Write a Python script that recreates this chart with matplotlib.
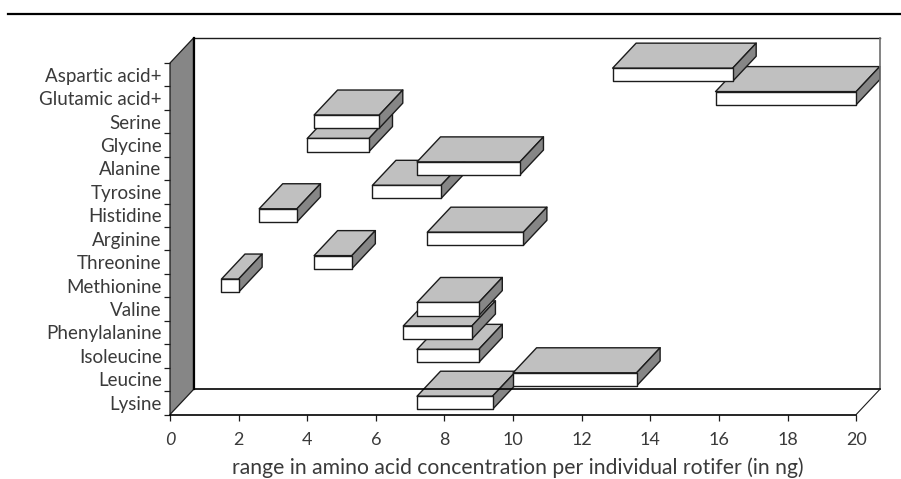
import matplotlib
matplotlib.use("Agg")
import matplotlib.pyplot as plt
from matplotlib.lines import Line2D
from matplotlib.patches import Polygon

# listed bottom to top, as on the axis
amino_acids = ["Lysine", "Leucine", "Isoleucine", "Phenylalanine", "Valine",
               "Methionine", "Threonine", "Arginine", "Histidine", "Tyrosine",
               "Alanine", "Glycine", "Serine", "Glutamic acid+", "Aspartic acid+"]
range_low = [7.2, 10.0, 7.2, 6.8, 7.2, 1.5, 4.2, 7.5, 2.6, 5.9, 7.2, 4.0, 4.2, 15.9, 12.9]
range_high = [9.4, 13.6, 9.0, 8.8, 9.0, 2.0, 5.3, 10.3, 3.7, 7.9, 10.2, 5.8, 6.1, 20.0, 16.4]
x_ticks = [0, 2, 4, 6, 8, 10, 12, 14, 16, 18, 20]

WIDTH, HEIGHT = 901, 479
DX = 23.5 / 34.31  # depth offset in x units
DY = 25 / 23.43  # depth offset in category units
FONT = "Lato"
TEXT = "#3a3a3a"
EDGE = "#1c1c1c"


def add_bar(axes, low, high, index):
    y0 = index + 0.22
    y1 = index + 0.78
    top = [(low, y1), (high, y1), (high + DX, y1 + DY), (low + DX, y1 + DY)]
    side = [(high, y0), (high, y1), (high + DX, y1 + DY), (high + DX, y0 + DY)]
    front = [(low, y0), (high, y0), (high, y1), (low, y1)]
    for points, color in ((top, "#c0c0c0"), (side, "#868686"), (front, "white")):
        axes.add_patch(Polygon(points, closed=True, facecolor=color, edgecolor=EDGE,
                               linewidth=1.0, joinstyle="round", clip_on=False))


def add_line(axes, xs, ys, color=EDGE, width=1.0):
    axes.add_line(Line2D(xs, ys, color=color, linewidth=width, clip_on=False))


def main():
    fig = plt.figure(figsize=(WIDTH / 100, HEIGHT / 100), dpi=100)
    fig.add_artist(Line2D([8 / WIDTH, 1], [1 - 14 / HEIGHT, 1 - 14 / HEIGHT],
                          color="black", linewidth=1.6))

    axes = fig.add_axes([170 / WIDTH, (HEIGHT - 414.5) / HEIGHT,
                         686.2 / WIDTH, 351.5 / HEIGHT])
    axes.set_xlim(0, 20)
    axes.set_ylim(0, len(amino_acids))
    for spine in axes.spines.values():
        spine.set_visible(False)

    # Back wall and floor
    n = len(amino_acids)
    add_line(axes, [DX, 20 + DX], [n + DY, n + DY], width=1.0)
    add_line(axes, [20 + DX, 20 + DX], [DY, n + DY], color="#6e6e6e", width=1.2)
    add_line(axes, [DX, 20 + DX], [DY, DY], color="black", width=1.2)
    add_line(axes, [0, 20], [0, 0], color="black", width=1.2)
    add_line(axes, [20, 20 + DX], [0, DY], width=0.8)

    # Left wall
    axes.add_patch(Polygon([(0, 0), (0, n), (DX, n + DY), (DX, DY)], closed=True,
                           facecolor="#868686", edgecolor=EDGE, linewidth=0.9, clip_on=False))
    add_line(axes, [DX, DX], [DY, n + DY], color="black", width=1.6)

    # Bars, higher categories painted over lower ones
    for index in range(n):
        add_bar(axes, range_low[index], range_high[index], index)

    axes.set_xticks(x_ticks)
    axes.set_xticklabels([str(t) for t in x_ticks], fontfamily=FONT, fontsize=13, color=TEXT)
    axes.get_xticklabels()[0].set_fontstyle("italic")
    axes.set_yticks(range(n + 1))
    axes.set_yticklabels([])
    axes.set_yticks([i + 0.5 for i in range(n)], minor=True)
    axes.set_yticklabels(amino_acids, minor=True, fontfamily=FONT, fontsize=13.5, color=TEXT)
    axes.tick_params(axis="x", length=4.5, width=0.9, color=EDGE, pad=8)
    axes.tick_params(axis="y", which="major", length=4, width=0.9, color=EDGE)
    axes.tick_params(axis="y", which="minor", length=0, pad=6)
    axes.set_xlabel("range in amino acid concentration per individual rotifer (in ng)",
                    fontfamily=FONT, fontsize=15.2, color=TEXT)
    axes.xaxis.set_label_coords((518 - 170) / 686.2, -0.122)

    fig.savefig("out.png", dpi=100, facecolor="white")


if __name__ == "__main__":
    main()
